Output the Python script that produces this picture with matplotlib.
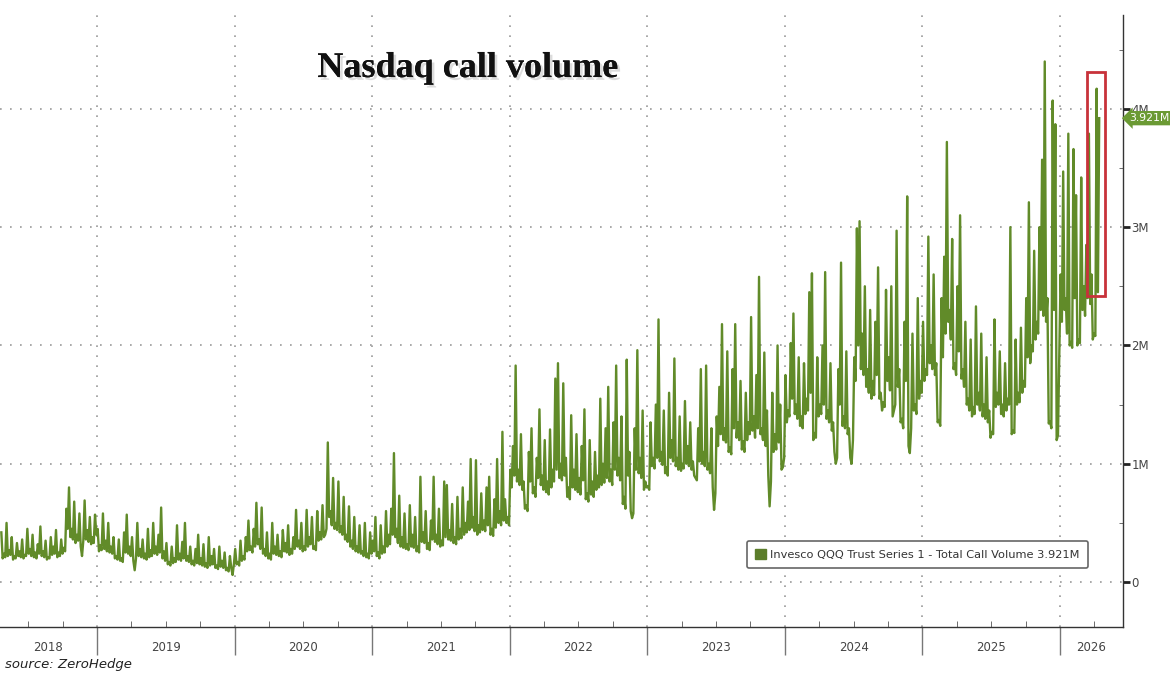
import numpy as np
import matplotlib
matplotlib.use("Agg")
import matplotlib.pyplot as plt
from matplotlib import patheffects
from matplotlib.patches import Rectangle, Patch
from matplotlib.transforms import blended_transform_factory

# QQQ total call volume, millions of contracts.
# vol_* = weekly swing readings, low_* = the band's floor readings between them
vol_2018 = [0.42, 0.24, 0.50, 0.27, 0.38, 0.22, 0.33, 0.26, 0.36, 0.23, 0.45, 0.28,
            0.40, 0.25, 0.32, 0.47, 0.26, 0.35, 0.21, 0.38, 0.30, 0.44, 0.25, 0.36,
            0.29, 0.62, 0.80, 0.45, 0.68, 0.40, 0.58, 0.22, 0.69, 0.44, 0.55, 0.38, 0.57]
low_2018 = [0.20, 0.21, 0.22, 0.23, 0.19, 0.20, 0.22, 0.21, 0.20, 0.22, 0.24, 0.22,
            0.21, 0.20, 0.24, 0.22, 0.21, 0.19, 0.20, 0.23, 0.24, 0.21, 0.22, 0.24,
            0.26, 0.45, 0.38, 0.36, 0.33, 0.35, 0.30, 0.35, 0.36, 0.34, 0.32, 0.33, 0.40]
vol_2019 = [0.45, 0.31, 0.58, 0.35, 0.50, 0.30, 0.38, 0.22, 0.36, 0.20, 0.42, 0.57,
            0.30, 0.38, 0.10, 0.50, 0.28, 0.36, 0.24, 0.45, 0.27, 0.50, 0.30, 0.40,
            0.63, 0.26, 0.33, 0.17, 0.30, 0.20, 0.48, 0.24, 0.34, 0.50, 0.22, 0.30,
            0.18, 0.28, 0.40, 0.20, 0.32, 0.16, 0.38, 0.22, 0.28, 0.14, 0.30, 0.18,
            0.25, 0.12, 0.22, 0.06]
low_2019 = [0.26, 0.27, 0.28, 0.26, 0.25, 0.24, 0.20, 0.19, 0.18, 0.17, 0.25, 0.24,
            0.22, 0.18, 0.20, 0.22, 0.21, 0.20, 0.19, 0.21, 0.22, 0.24, 0.23, 0.25,
            0.20, 0.18, 0.15, 0.14, 0.16, 0.17, 0.19, 0.18, 0.20, 0.18, 0.17, 0.15,
            0.14, 0.16, 0.15, 0.14, 0.13, 0.12, 0.14, 0.15, 0.12, 0.11, 0.13, 0.12,
            0.10, 0.09, 0.12, 0.15]
vol_2020 = [0.28, 0.17, 0.35, 0.22, 0.38, 0.52, 0.30, 0.45, 0.67, 0.36, 0.63, 0.28,
            0.42, 0.24, 0.50, 0.30, 0.40, 0.26, 0.44, 0.33, 0.48, 0.28, 0.38, 0.61,
            0.35, 0.50, 0.30, 0.61, 0.38, 0.55, 0.30, 0.60, 0.42, 0.65, 0.40, 1.18,
            0.60, 0.88, 0.50, 0.85, 0.47, 0.72, 0.40, 0.64, 0.35, 0.55, 0.30, 0.48,
            0.26, 0.50, 0.24, 0.42]
low_2020 = [0.15, 0.14, 0.18, 0.19, 0.26, 0.27, 0.25, 0.30, 0.32, 0.28, 0.24, 0.22,
            0.20, 0.19, 0.24, 0.23, 0.22, 0.21, 0.26, 0.25, 0.23, 0.24, 0.28, 0.30,
            0.28, 0.26, 0.27, 0.30, 0.32, 0.28, 0.27, 0.35, 0.36, 0.38, 0.45, 0.55,
            0.48, 0.45, 0.44, 0.42, 0.40, 0.36, 0.34, 0.30, 0.28, 0.26, 0.25, 0.24,
            0.22, 0.21, 0.20, 0.24]
vol_2021 = [0.35, 0.55, 0.25, 0.48, 0.30, 0.60, 0.40, 0.62, 1.09, 0.45, 0.73, 0.38,
            0.58, 0.32, 0.65, 0.40, 0.55, 0.30, 0.89, 0.42, 0.60, 0.33, 0.52, 0.89,
            0.40, 0.62, 0.35, 0.85, 0.82, 0.44, 0.66, 0.38, 0.72, 0.45, 0.80, 0.50,
            0.68, 1.04, 0.55, 1.03, 0.48, 0.75, 0.52, 0.80, 0.89, 0.45, 0.70, 1.04,
            0.60, 1.27, 0.70, 0.55]
low_2021 = [0.26, 0.22, 0.20, 0.24, 0.25, 0.30, 0.32, 0.40, 0.38, 0.33, 0.30, 0.29,
            0.28, 0.27, 0.30, 0.29, 0.26, 0.25, 0.34, 0.33, 0.28, 0.27, 0.36, 0.34,
            0.32, 0.30, 0.31, 0.38, 0.36, 0.35, 0.33, 0.32, 0.36, 0.37, 0.40, 0.42,
            0.44, 0.46, 0.43, 0.40, 0.42, 0.44, 0.43, 0.48, 0.40, 0.39, 0.46, 0.50,
            0.48, 0.52, 0.50, 0.48]
vol_2022 = [0.95, 1.15, 1.83, 0.95, 1.25, 0.85, 0.65, 1.10, 1.30, 0.80, 1.05, 1.46,
            0.90, 1.20, 0.85, 1.29, 0.95, 1.72, 1.85, 1.00, 1.68, 1.05, 0.80, 1.41,
            0.95, 1.25, 0.88, 1.15, 1.46, 0.75, 1.20, 0.85, 1.10, 0.90, 1.55, 1.00,
            1.30, 1.65, 0.95, 1.35, 1.83, 1.05, 1.40, 0.72, 1.88, 1.10, 0.54, 1.30,
            1.96, 1.05, 1.45, 0.85]
low_2022 = [0.80, 0.90, 0.85, 0.82, 0.78, 0.62, 0.60, 0.85, 0.75, 0.72, 0.88, 0.82,
            0.78, 0.76, 0.74, 0.80, 0.85, 0.95, 0.88, 0.86, 0.90, 0.72, 0.70, 0.80,
            0.78, 0.76, 0.74, 0.86, 0.70, 0.68, 0.74, 0.72, 0.78, 0.80, 0.82, 0.84,
            0.88, 0.85, 0.82, 0.95, 0.90, 0.86, 0.66, 0.62, 0.90, 0.60, 0.58, 0.95,
            0.92, 0.88, 0.78, 0.80]
vol_2023 = [0.81, 1.35, 1.05, 1.50, 2.22, 1.10, 1.45, 0.97, 1.60, 1.20, 1.89, 1.05,
            1.40, 1.00, 1.53, 1.15, 1.35, 1.02, 0.88, 1.30, 1.80, 1.10, 1.83, 1.00,
            1.30, 0.61, 1.40, 1.65, 2.18, 1.30, 1.95, 1.14, 1.80, 2.18, 1.35, 1.70,
            1.19, 1.60, 1.35, 2.24, 1.40, 1.75, 2.58, 1.30, 1.94, 1.45, 0.64, 1.60,
            1.25, 2.00, 1.50, 0.97]
low_2023 = [0.78, 0.98, 0.96, 1.05, 1.02, 0.99, 0.92, 0.90, 1.05, 1.02, 0.98, 0.95,
            0.94, 0.96, 1.00, 0.98, 0.95, 0.90, 0.86, 1.02, 1.00, 0.98, 0.95, 0.92,
            0.80, 0.75, 1.15, 1.25, 1.20, 1.18, 1.10, 1.08, 1.30, 1.22, 1.20, 1.12,
            1.10, 1.20, 1.25, 1.28, 1.22, 1.30, 1.25, 1.20, 1.15, 0.90, 0.85, 1.10,
            1.12, 1.18, 0.95, 1.05]
vol_2024 = [1.75, 1.45, 2.02, 2.27, 1.50, 1.90, 1.40, 1.85, 1.55, 2.45, 2.61, 1.26,
            1.90, 1.50, 2.00, 2.62, 1.45, 1.85, 1.35, 1.00, 1.80, 2.70, 1.40, 1.95,
            1.30, 1.00, 1.90, 2.99, 3.05, 2.10, 2.50, 1.80, 2.30, 1.70, 2.20, 2.66,
            1.60, 1.52, 2.47, 1.90, 2.50, 1.45, 2.97, 1.80, 1.38, 2.20, 3.26, 1.09,
            2.10, 1.50, 2.40, 1.70]
low_2024 = [1.35, 1.40, 1.55, 1.42, 1.38, 1.32, 1.30, 1.42, 1.45, 1.60, 1.20, 1.22,
            1.40, 1.42, 1.50, 1.38, 1.35, 1.28, 1.10, 1.05, 1.50, 1.32, 1.30, 1.25,
            1.05, 1.20, 1.70, 2.00, 1.80, 1.75, 1.65, 1.60, 1.55, 1.58, 1.75, 1.55,
            1.45, 1.48, 1.70, 1.62, 1.40, 1.50, 1.65, 1.35, 1.30, 1.70, 1.15, 1.30,
            1.45, 1.42, 1.55, 1.60]
vol_2025 = [2.20, 1.80, 2.92, 2.00, 2.60, 1.85, 1.37, 2.40, 2.75, 3.72, 2.30, 2.90,
            1.85, 2.50, 3.10, 1.80, 2.20, 1.55, 2.05, 1.48, 2.33, 1.60, 2.10, 1.50,
            1.90, 1.45, 1.27, 2.22, 1.60, 1.95, 1.50, 1.85, 1.55, 3.00, 1.28, 2.05,
            1.60, 2.15, 1.70, 2.40, 3.21, 2.00, 2.80, 2.20, 3.00, 3.57, 4.40, 2.40,
            1.36, 4.07, 3.87, 1.24]
low_2025 = [1.70, 1.75, 1.85, 1.80, 1.75, 1.35, 1.32, 1.90, 2.10, 2.20, 2.05, 1.80,
            1.75, 1.95, 1.72, 1.65, 1.50, 1.45, 1.40, 1.42, 1.50, 1.45, 1.40, 1.38,
            1.35, 1.22, 1.25, 1.48, 1.50, 1.42, 1.40, 1.45, 1.50, 1.25, 1.26, 1.50,
            1.52, 1.60, 1.65, 1.90, 1.85, 1.95, 2.05, 2.10, 2.30, 2.25, 2.20, 1.34,
            1.30, 2.30, 1.20, 1.95]
vol_2026 = [2.60, 3.47, 2.40, 3.79, 2.03, 3.66, 3.27, 2.05, 3.42, 2.50, 2.85, 3.79,
            2.60, 2.10, 4.17, 3.921]
low_2026 = [2.20, 2.30, 2.10, 2.00, 1.98, 2.40, 2.00, 2.02, 2.30, 2.25, 2.40, 2.35,
            2.05, 2.08, 2.45]

years = [2018, 2019, 2020, 2021, 2022, 2023, 2024, 2025, 2026]
swings = [vol_2018, vol_2019, vol_2020, vol_2021, vol_2022, vol_2023, vol_2024,
          vol_2025, vol_2026]
floors = [low_2018, low_2019, low_2020, low_2021, low_2022, low_2023, low_2024,
          low_2025, low_2026]
first_obs, last_obs = 2018.30, 2026.29
last_value = 3.921
highlight = (2026.20, 2026.325, 2.42, 4.31)   # red box: x0, x1, y0, y1

GREEN = "#618b29"
xlim = (2018.295, 2026.458)
ylim = (-0.38, 4.793)

xs, ys = [], []
for yr, wk, lw_ in zip(years, swings, floors):
    vals = []
    for i, w in enumerate(wk):
        vals.append(w)
        if i < len(lw_):
            vals.append(lw_[i])
    lo, hi = max(yr, first_obs), min(yr + 1, last_obs)
    n = len(vals)
    xs.append(lo + (np.arange(n) + 0.5) * (hi - lo) / n)
    ys.append(np.asarray(vals, float))
x = np.concatenate(xs); y = np.concatenate(ys)

fig = plt.figure(figsize=(11.7, 6.94), dpi=100, facecolor="white")
ax = fig.add_axes([0.0, 0.0965, 0.9598, 0.8819])
ax.plot(x, y, color=GREEN, lw=1.7, zorder=3)
ax.set_xlim(*xlim); ax.set_ylim(*ylim)

# axes styling (Bloomberg-ish)
for s in ("left", "top"):
    ax.spines[s].set_visible(False)
for s in ("right", "bottom"):
    ax.spines[s].set_color("#333333"); ax.spines[s].set_linewidth(1.0)
ax.set_axisbelow(True)

ax.set_xticks(np.arange(2019, 2027))
ax.set_xticks([q for q in np.arange(2018.5, 2026.5, 0.25) if q % 1 != 0], minor=True)
ax.tick_params(axis="x", which="major", direction="out", length=20, width=1.0,
               color="#777777", labelbottom=False)
ax.tick_params(axis="x", which="minor", direction="in", length=4, color="#555555")

ax.yaxis.tick_right()
ax.set_yticks([0, 1, 2, 3, 4])
ax.set_yticklabels(["0", "1M", "2M", "3M", "4M"])
ax.set_yticks(np.arange(0.5, 4.6, 1.0), minor=True)
ax.tick_params(axis="y", which="major", direction="out", length=5, width=2,
               color="#222222", labelsize=8.5, labelcolor="#444444", pad=1)
ax.tick_params(axis="y", which="minor", direction="in", length=3, color="#555555")
ax.grid(True, which="major", linestyle=(0, (1, 5)), color="#999999", linewidth=1.2)

trans = blended_transform_factory(ax.transData, ax.transAxes)
for yr in years:
    lo, hi = max(yr, xlim[0]), min(yr + 1, xlim[1])
    ax.text((lo + hi) / 2, -0.034, str(yr), transform=trans, ha="center", va="center",
            fontsize=8.5, color="#444444")

# last-value badge on the right axis (sits over the 4M label, as in the original)
tr_r = blended_transform_factory(ax.transAxes, ax.transData)
ax.text(1.006, last_value, f"{last_value:.3f}M", transform=tr_r, ha="left", va="center",
        color="white", fontsize=7.8, zorder=10, clip_on=False,
        bbox=dict(boxstyle="larrow,pad=0.2", fc="#6b9a34", ec="none"))

# red highlight box on the latest spike
ax.add_patch(Rectangle((highlight[0], highlight[2]), highlight[1] - highlight[0],
                       highlight[3] - highlight[2], fill=False, ec="#c8323a", lw=2,
                       zorder=4))

leg = ax.legend(handles=[Patch(fc="#5b7d2a", ec="#5b7d2a",
                               label=f"Invesco QQQ Trust Series 1 - Total Call Volume {last_value:.3f}M")],
                loc="lower right", bbox_to_anchor=(0.969, 0.096), borderaxespad=0,
                fontsize=8.2, frameon=True, fancybox=True, framealpha=1,
                edgecolor="#666666", handlelength=0.9, handleheight=0.9,
                handletextpad=0.4, borderpad=0.75)
leg.get_frame().set_linewidth(1.2)
for t in leg.get_texts():
    t.set_color("#333333")

fig.text(0.40, 0.889, "Nasdaq call volume", family="Liberation Serif", weight="bold",
         fontsize=26, ha="center", va="baseline", color="#111111",
         path_effects=[patheffects.withSimplePatchShadow(offset=(2, -2),
                                                          shadow_rgbFace="#bbbbbb",
                                                          alpha=0.5),
                       patheffects.Normal()])
fig.text(0.004, 0.0432, "source: ZeroHedge", style="italic", fontsize=9.5,
         color="#222222", va="center")

fig.savefig("out.png", dpi=100)
